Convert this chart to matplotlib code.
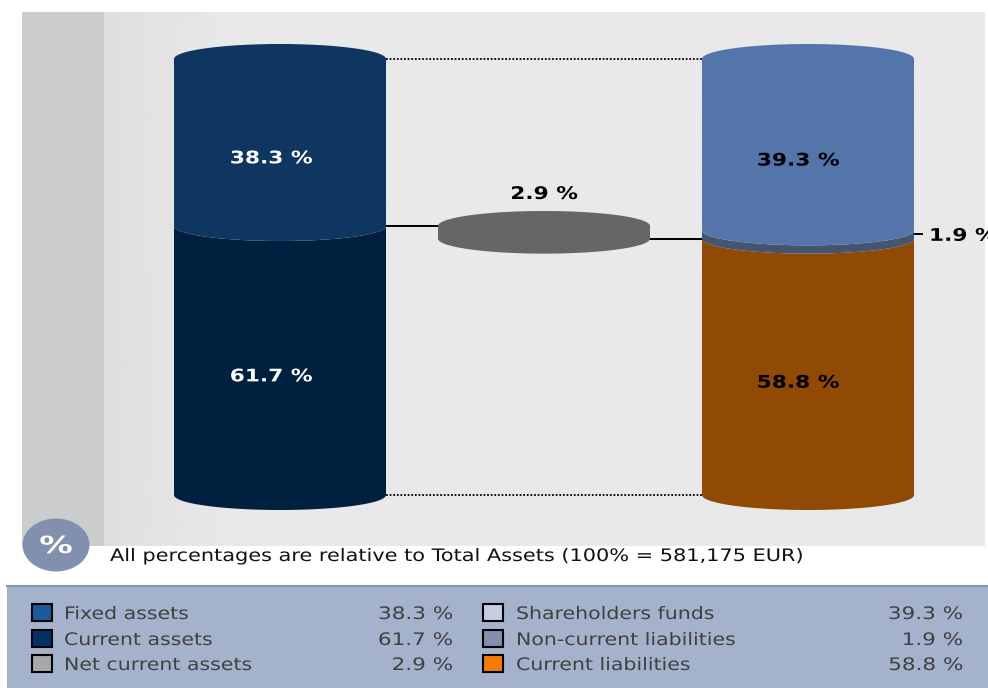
import matplotlib
matplotlib.use("Agg")
import matplotlib.pyplot as plt
from matplotlib.patches import Ellipse, Polygon, Rectangle
from matplotlib.patheffects import AbstractPathEffect
from matplotlib.transforms import Affine2D
import numpy as np

# cylinders, values in % of total assets, top segment first
assets = [38.3, 61.7]
assets_colors = ["#0e3660", "#00203f"]
net_current = 2.9
funding = [39.3, 1.9, 58.8]
funding_colors = ["#5475aa", "#46556f", "#904a04"]

legend_left = ["Fixed assets", "Current assets", "Net current assets"]
legend_left_vals = [38.3, 61.7, 2.9]
legend_left_colors = ["#1a5a9f", "#003268", "#a8a8a8"]
legend_right = ["Shareholders funds", "Non-current liabilities", "Current liabilities"]
legend_right_vals = [39.3, 1.9, 58.8]
legend_right_colors = ["#c4cfe2", "#8090ae", "#f57c00"]

note = "All percentages are relative to Total Assets (100% = 581,175 EUR)"

W, H = 988, 688
fig = plt.figure(figsize=(W / 100, H / 100), dpi=100, facecolor="white")


# the reference text is wider than DejaVu Sans, widen it around its anchor
class StretchX(AbstractPathEffect):
    def __init__(self, text, sx):
        super().__init__()
        self.text = text
        self.sx = sx

    def draw_path(self, renderer, gc, tpath, affine, rgbFace=None):
        x0 = self.text.get_transform().transform(self.text.get_position())[0]
        wide = Affine2D().translate(-x0, 0).scale(self.sx, 1).translate(x0, 0)
        renderer.draw_path(gc, tpath, affine + wide, rgbFace)


def wide(t, sx):
    t.set_path_effects([StretchX(t, sx)])
    return t


# plot panel: x in pixels, y in percent (0 at y=495, 100 at y=59)
px = 4.36
ax = fig.add_axes([22 / W, 1 - 546 / H, (984 - 22) / W, (546 - 12) / H])
ax.set_xlim(22, 984)
ax.set_ylim((495 - 546) / px, (495 - 12) / px)
ax.axis("off")

# background with the soft shade next to the grey band
grad = np.interp(np.arange(22, 984), [22, 103.9, 104, 125, 240, 984],
                 [0.80, 0.80, 0.87, 0.88, 0.914, 0.914])
ax.imshow(grad[np.newaxis, :], extent=[22, 984, ax.get_ylim()[0], ax.get_ylim()[1]],
          cmap="gray", vmin=0, vmax=1, aspect="auto", zorder=0)
ax.set_xlim(22, 984)

half_w = 106
ry = 15 / px
t = np.linspace(np.pi, 0, 120)


def segment(cx, top, bottom, color, z, cap=False):
    xs = cx + half_w * np.cos(t)
    lower = bottom - ry * np.sin(t)
    upper = top - ry * np.sin(t)
    if cap:
        upper = top + ry * np.sin(t)
    pts = np.column_stack([np.r_[xs, xs[::-1]], np.r_[lower, upper[::-1]]])
    ax.add_patch(Polygon(pts, closed=True, facecolor=color, edgecolor="none", zorder=z))


def cylinder(cx, values, colors):
    top = 100.0
    for i, (v, c) in enumerate(zip(values, colors)):
        segment(cx, top, top - v, c, 5 + len(values) - i, cap=(i == 0))
        top -= v


left_x, mid_x, right_x = 280, 544, 808
cylinder(left_x, assets, assets_colors)
cylinder(right_x, funding, funding_colors)

# net current assets disc sits between the two boundaries
mid_top = 100 - assets[0]
segment(mid_x, mid_top, mid_top - net_current, "#666666", 5, cap=True)

# connector lines
ax.plot([386, 702], [100, 100], color="black", lw=1.3, ls=(0, (1, 1)), zorder=2)
ax.plot([386, 702], [0, 0], color="black", lw=1.3, ls=(0, (1, 1)), zorder=2)
ax.plot([386, 438], [mid_top, mid_top], color="black", lw=1.4, zorder=2)
ax.plot([650, 702], [mid_top - net_current] * 2, color="black", lw=1.4, zorder=2)
nc_y = 100 - funding[0] - funding[1] / 2
ax.plot([914, 922], [nc_y + 0.1] * 2, color="black", lw=1.4, zorder=2)

# value labels
lab = dict(fontsize=12.5, fontweight="bold", ha="center", va="center", zorder=20)
bold_sx = 1.25
dy = -0.2
wide(ax.text(271, 100 - assets[0] / 2 - ry + dy, f"{assets[0]} %", color="white", **lab), bold_sx)
wide(ax.text(271, assets[1] / 2 - ry + dy, f"{assets[1]} %", color="white", **lab), bold_sx)
wide(ax.text(798, 100 - funding[0] / 2 - ry + dy, f"{funding[0]} %", color="black", **lab), bold_sx)
wide(ax.text(798, funding[2] / 2 - ry + dy, f"{funding[2]} %", color="black", **lab), bold_sx)
wide(ax.text(mid_x, mid_top + ry + 3.9, f"{net_current} %", color="black", **lab), bold_sx)
wide(ax.text(929, nc_y - 0.3, f"{funding[1]} %", color="black", fontsize=12.5,
             fontweight="bold", ha="left", va="center", clip_on=False, zorder=20), bold_sx)

# overlay in pixel coordinates for the note and the legend box
ov = fig.add_axes([0, 0, 1, 1], facecolor="none")
ov.set_xlim(0, W)
ov.set_ylim(H, 0)
ov.axis("off")

ov.add_patch(Rectangle((22, 12), 82, 534, facecolor="#cbccce", edgecolor="none", zorder=0))
ov.add_patch(Ellipse((56, 545), 67, 53, facecolor="#8090ae", edgecolor="none", zorder=3))
wide(ov.text(56, 546, "%", color="white", fontsize=17, fontweight="bold",
             ha="center", va="center", zorder=4), 1.42)
wide(ov.text(110, 556, note, color="#111111", fontsize=12.4, ha="left", va="center"), 1.21)

ov.add_patch(Rectangle((7, 585), W - 7, H - 585, facecolor="#a5b2cc", edgecolor="none", zorder=1))
ov.plot([7, W], [585.5, 585.5], color="#8494b0", lw=1.5, zorder=2)

row_y = [612, 638, 663]
for names, vals, colors, sx, tx, vx in [
    (legend_left, legend_left_vals, legend_left_colors, 32, 64, 453.5),
    (legend_right, legend_right_vals, legend_right_colors, 483, 516, 963.5),
]:
    for y, n, v, c in zip(row_y, names, vals, colors):
        ov.add_patch(Rectangle((sx, y - 8.5), 20, 17, facecolor=c, edgecolor="black",
                               lw=1.5, zorder=3))
        wide(ov.text(tx, y + 2, n, color="#404040", fontsize=12.4, ha="left",
                     va="center", zorder=3), 1.19)
        wide(ov.text(vx, y + 2, f"{v} %", color="#404040", fontsize=12.4, ha="right",
                     va="center", zorder=3), 1.25)

fig.savefig("out.png", dpi=100)
